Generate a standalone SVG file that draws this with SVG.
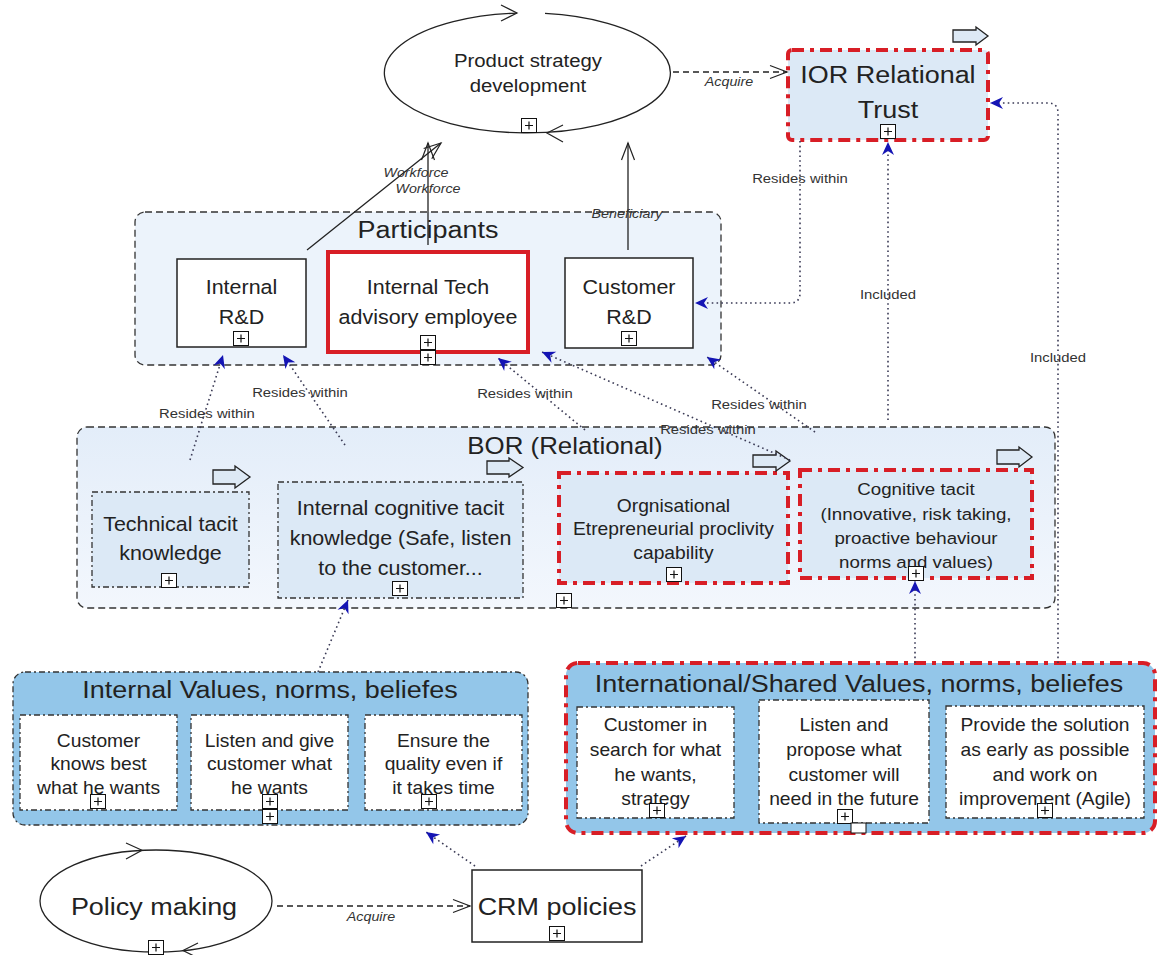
<svg xmlns="http://www.w3.org/2000/svg" xmlns:xlink="http://www.w3.org/1999/xlink" width="1173" height="955" viewBox="0 0 1173 955">
<style>
text { font-family: "Liberation Sans", Arial, sans-serif; fill: #222; text-anchor: middle; transform-box: fill-box; transform-origin: center; transform: scaleX(1.1); }
.lbl { font-size: 13.5px; fill: #333; }
.it { font-size: 13px; font-style: italic; fill: #333; }
.hdr { font-size: 24.5px; }
.box { fill: #fff; stroke: #222; stroke-width: 1.5; }
.cont { stroke: #333; stroke-width: 1.3; stroke-dasharray: 7 4; }
.dd { stroke: #333; stroke-width: 1.3; stroke-dasharray: 6 3 2 3; }
.red { stroke: #d81e26; stroke-width: 4; stroke-dasharray: 12 6 4 6; }
.lb { fill: #dce9f6; }
.vb { fill: #93c6e9; }
.solid { fill: none; stroke: #222; stroke-width: 1.3; }
.dash { fill: none; stroke: #222; stroke-width: 1.3; stroke-dasharray: 6 4; }
.dot { fill: none; stroke: #3a3a55; stroke-width: 1.6; stroke-dasharray: 1.6 3.2; }
.barrow { fill: #dde9f5; stroke: #222; stroke-width: 1.3; }
.ell { fill: #fff; stroke: #222; stroke-width: 1.3; }
</style>
<defs>
<marker id="open" markerUnits="userSpaceOnUse" markerWidth="22" markerHeight="16" refX="19" refY="8" orient="auto" overflow="visible">
<path d="M2,1.5 L19,8 L2,14.5" fill="none" stroke="#222" stroke-width="1.2"/>
</marker>
<marker id="blue" markerUnits="userSpaceOnUse" markerWidth="14" markerHeight="12" refX="13" refY="6" orient="auto" overflow="visible">
<path d="M13,6 L0,0 L4,6 L0,12 Z" fill="#1414b4"/>
</marker>
<symbol id="plus" viewBox="0 0 16 15">
<rect x="0.5" y="0.5" width="15" height="14" fill="#fff" stroke="#111" stroke-width="1"/>
<path d="M8,3.5 V11.5 M4,7.5 H12" stroke="#111" stroke-width="1.2"/>
</symbol>
<linearGradient id="borg" x1="0" y1="0" x2="0" y2="1">
<stop offset="0" stop-color="#e3edf9"/>
<stop offset="1" stop-color="#f3f7fd"/>
</linearGradient>
</defs>
<rect width="1173" height="955" fill="#fff"/>

<!-- containers -->
<g id="participants">
<rect x="135" y="212" width="586" height="153" rx="10" fill="#ecf3fb" class="cont"/>
<text class="hdr" x="428" y="238">Participants</text>
</g>
<g id="bor">
<rect x="77" y="427" width="978" height="181" rx="10" fill="url(#borg)" class="cont"/>
<text x="565" y="454" style="font-size:23.5px">BOR (Relational)</text>
<use href="#plus" x="556" y="593" width="16" height="15"/>
</g>
<g id="internal-values">
<rect x="13" y="672" width="515" height="153" rx="12" class="vb dd"/>
<text class="hdr" x="270" y="698">Internal Values, norms, beliefes</text>
</g>
<g id="international-values">
<rect x="566" y="663" width="589" height="170" rx="12" class="vb red"/>
<text class="hdr" x="859" y="692">International/Shared Values, norms, beliefes</text>
</g>

<!-- nodes -->
<g id="product-strategy">
<path d="M545,13.4 A143,60 0 1 1 517,13.1" class="ell"/>
<path d="M501,5 L517,13 L501,21" fill="none" stroke="#222" stroke-width="1.2"/>
<path d="M563,125 L547,133 L563,142" fill="none" stroke="#222" stroke-width="1.2"/>
<text x="528" y="67" style="font-size:18.5px">Product strategy<tspan x="528" dy="25">development</tspan></text>
<use href="#plus" x="521" y="118" width="16" height="15"/>
</g>
<g id="ior-trust">
<rect x="788" y="50" width="200" height="90" rx="4" class="lb red"/>
<text x="888" y="83" style="font-size:24.5px">IOR Relational<tspan x="888" dy="35">Trust</tspan></text>
<use href="#plus" x="880" y="124" width="16" height="15"/>
<path d="M953,30 H976 V27 L988,36 L976,45 V42 H953 Z" class="barrow"/>
</g>
<g id="internal-rd">
<rect x="177" y="259" width="129" height="88" class="box"/>
<text x="241.5" y="294" style="font-size:19.5px">Internal<tspan x="241.5" dy="30">R&amp;D</tspan></text>
<use href="#plus" x="233" y="331" width="16" height="15"/>
</g>
<g id="internal-tech">
<rect x="328" y="252" width="200" height="100" fill="#fff" stroke="#d81e26" stroke-width="4"/>
<text x="428" y="294" style="font-size:19.5px">Internal Tech<tspan x="428" dy="30">advisory employee</tspan></text>
<use href="#plus" x="420" y="335" width="16" height="15"/>
<use href="#plus" x="420" y="350" width="16" height="15"/>
</g>
<g id="customer-rd">
<rect x="565" y="258" width="128" height="90" class="box"/>
<text x="629" y="294" style="font-size:19.5px">Customer<tspan x="629" dy="30">R&amp;D</tspan></text>
<use href="#plus" x="621" y="331" width="16" height="15"/>
</g>
<g id="technical-tacit">
<rect x="92" y="492" width="157" height="95" class="lb dd"/>
<text x="170.5" y="531" style="font-size:19.5px">Technical tacit<tspan x="170.5" dy="29">knowledge</tspan></text>
<use href="#plus" x="161" y="573" width="16" height="15"/>
<path d="M213,470 H235 V466 L250,477 L235,488 V484 H213 Z" class="barrow"/>
</g>
<g id="internal-cognitive">
<rect x="278" y="482" width="245" height="116" class="lb dd"/>
<text x="400.5" y="515" style="font-size:19.5px">Internal cognitive tacit<tspan x="400.5" dy="30">knowledge (Safe, listen</tspan><tspan x="400.5" dy="30">to the customer...</tspan></text>
<use href="#plus" x="392" y="581" width="16" height="15"/>
<path d="M487,461 H509 V458 L523,467.5 L509,477 V474 H487 Z" class="barrow"/>
</g>
<g id="orgnisational">
<rect x="559" y="473" width="229" height="110" class="lb red"/>
<text x="673.5" y="512" style="font-size:17.5px">Orgnisational<tspan x="673.5" dy="23.5">Etrepreneurial proclivity</tspan><tspan x="673.5" dy="23.5">capability</tspan></text>
<use href="#plus" x="666" y="567" width="16" height="15"/>
<path d="M753,455 H776 V451 L790,461 L776,471 V467 H753 Z" class="barrow"/>
</g>
<g id="cognitive-tacit">
<rect x="800" y="470" width="232" height="108" class="lb red"/>
<text x="916" y="495" style="font-size:17px">Cognitive tacit<tspan x="916" dy="25">(Innovative, risk taking,</tspan><tspan x="916" dy="24">proactive behaviour</tspan><tspan x="916" dy="24">norms and values)</tspan></text>
<use href="#plus" x="908" y="566" width="16" height="15"/>
<path d="M997,450 H1019 V447 L1032,457 L1019,467 V464 H997 Z" class="barrow"/>
</g>
<g id="iv-customer-knows">
<rect x="20" y="715" width="157" height="95" fill="#fff" class="dd"/>
<text x="98.5" y="747" style="font-size:17.5px">Customer<tspan x="98.5" dy="23.5">knows best</tspan><tspan x="98.5" dy="23.5">what he wants</tspan></text>
<use href="#plus" x="90" y="794" width="16" height="15"/>
</g>
<g id="iv-listen-give">
<rect x="191" y="715" width="157" height="95" fill="#fff" class="dd"/>
<text x="269.5" y="747" style="font-size:17.5px">Listen and give<tspan x="269.5" dy="23.5">customer what</tspan><tspan x="269.5" dy="23.5">he wants</tspan></text>
<use href="#plus" x="262" y="794" width="16" height="15"/>
<use href="#plus" x="262" y="809" width="16" height="15"/>
</g>
<g id="iv-ensure-quality">
<rect x="365" y="715" width="157" height="95" fill="#fff" class="dd"/>
<text x="443.5" y="747" style="font-size:17.5px">Ensure the<tspan x="443.5" dy="23.5">quality even if</tspan><tspan x="443.5" dy="23.5">it takes time</tspan></text>
<use href="#plus" x="421" y="794" width="16" height="15"/>
</g>
<g id="sv-customer-search">
<rect x="577" y="707" width="157" height="111" fill="#fff" class="dd"/>
<text x="655.5" y="731" style="font-size:17.5px">Customer in<tspan x="655.5" dy="25">search for what</tspan><tspan x="655.5" dy="25">he wants,</tspan><tspan x="655.5" dy="24">strategy</tspan></text>
<use href="#plus" x="649" y="803" width="16" height="15"/>
</g>
<g id="sv-listen-propose">
<rect x="759" y="700" width="170" height="123" fill="#fff" class="dd"/>
<text x="844" y="731" style="font-size:17.5px">Listen and<tspan x="844" dy="25">propose what</tspan><tspan x="844" dy="25">customer will</tspan><tspan x="844" dy="24">need in the future</tspan></text>
<use href="#plus" x="837" y="809" width="16" height="15"/>
<rect x="851" y="823" width="15" height="10" fill="#fff" stroke="#111" stroke-width="1"/>
</g>
<g id="sv-provide-solution">
<rect x="946" y="706" width="198" height="112" fill="#fff" class="dd"/>
<text x="1045" y="731" style="font-size:17.5px">Provide the solution<tspan x="1045" dy="25">as early as possible</tspan><tspan x="1045" dy="25">and work on</tspan><tspan x="1045" dy="24">improvement (Agile)</tspan></text>
<use href="#plus" x="1037" y="803" width="16" height="15"/>
</g>
<g id="policy-making">
<ellipse cx="156" cy="901" rx="116" ry="51" class="ell"/>
<path d="M126,843 L142,850.3 L126,859" fill="none" stroke="#222" stroke-width="1.2"/>
<path d="M198,943 L183,950.5 L198,958" fill="none" stroke="#222" stroke-width="1.2"/>
<text x="154" y="915" class="hdr">Policy making</text>
<use href="#plus" x="148" y="940" width="16" height="15"/>
</g>
<g id="crm-policies">
<rect x="472" y="870" width="170" height="72" class="box"/>
<text x="557" y="915" class="hdr">CRM policies</text>
<use href="#plus" x="549" y="926" width="16" height="15"/>
</g>

<!-- connectors -->
<g id="connectors">
<path d="M307,250 L441,143" class="solid" marker-end="url(#open)"/>
<path d="M428,245 V143" class="solid" marker-end="url(#open)"/>
<path d="M628,250 V143" class="solid" marker-end="url(#open)"/>
<path d="M673,72 H787" class="dash" marker-end="url(#open)"/>
<path d="M277,906 H470" class="dash" marker-end="url(#open)"/>
<path d="M800,141 V293 Q800,303 790,303 H695" class="dot" marker-end="url(#blue)"/>
<path d="M888,420 V142" class="dot" marker-end="url(#blue)"/>
<path d="M1058,663 V113 Q1058,103 1048,103 H990" class="dot" marker-end="url(#blue)"/>
<path d="M915,663 V581" class="dot" marker-end="url(#blue)"/>
<path d="M318,672 L348,600" class="dot" marker-end="url(#blue)"/>
<path d="M475,866 L426,832" class="dot" marker-end="url(#blue)"/>
<path d="M641,866 L686,836" class="dot" marker-end="url(#blue)"/>
<path d="M190,460 L223,355" class="dot" marker-end="url(#blue)"/>
<path d="M345,445 L283,355" class="dot" marker-end="url(#blue)"/>
<path d="M585,430 L498,358" class="dot" marker-end="url(#blue)"/>
<path d="M790,460 L542,352" class="dot" marker-end="url(#blue)"/>
<path d="M815,432 L707,357" class="dot" marker-end="url(#blue)"/>
<text class="it" x="729" y="86">Acquire</text>
<text class="it" x="371" y="921">Acquire</text>
<text class="it" x="416" y="177">Workforce</text>
<text class="it" x="428" y="193">Workforce</text>
<text class="it" x="627" y="218">Beneficiary</text>
<text class="lbl" x="800" y="183">Resides within</text>
<text class="lbl" x="888" y="299">Included</text>
<text class="lbl" x="1058" y="362">Included</text>
<text class="lbl" x="207" y="418">Resides within</text>
<text class="lbl" x="300" y="397">Resides within</text>
<text class="lbl" x="525" y="398">Resides within</text>
<text class="lbl" x="708" y="434">Resides within</text>
<text class="lbl" x="759" y="409">Resides within</text>
</g>
</svg>
